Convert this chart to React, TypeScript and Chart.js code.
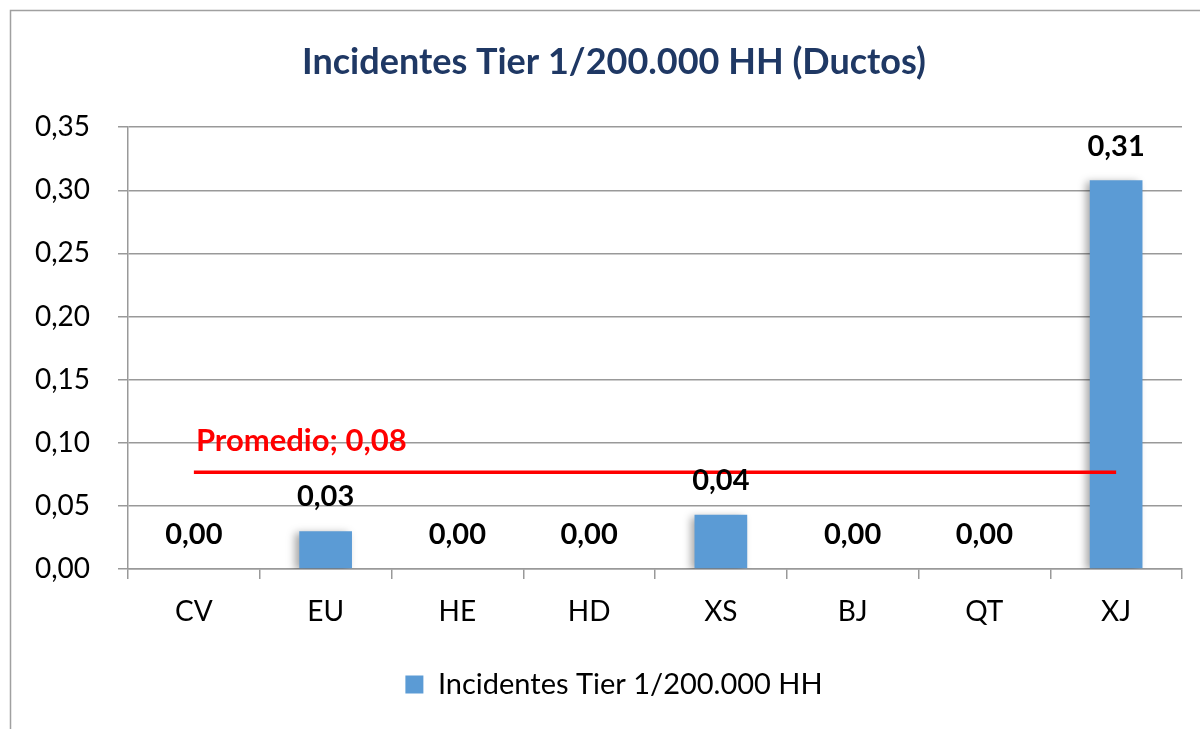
import React, { useEffect, useRef } from "react";
import { Chart, registerables } from "chart.js";

Chart.register(...registerables);

const categories = ["CV", "EU", "HE", "HD", "XS", "BJ", "QT", "XJ"];
const tierValues = [0, 0.03, 0, 0, 0.043, 0, 0, 0.308];
const averageValue = 0.0766;
const averageLabel = "Promedio; 0,08";
const seriesName = "Incidentes Tier 1/200.000 HH";
const titleText = "Incidentes Tier 1/200.000 HH (Ductos)";
const FONT = "Lato, 'Noto Sans', sans-serif";

const fmt = (v: number) => v.toFixed(2).replace(".", ",");

const framePlugin = {
  id: "frame",
  beforeDraw(chart: any) {
    const ctx = chart.ctx;
    ctx.save();
    ctx.fillStyle = "#ffffff";
    ctx.fillRect(0, 0, chart.width, chart.height);
    ctx.strokeStyle = "#a0a0a0";
    ctx.lineWidth = 1.5;
    ctx.beginPath();
    ctx.moveTo(10.5, chart.height + 5);
    ctx.lineTo(10.5, 10.5);
    ctx.lineTo(chart.width + 5, 10.5);
    ctx.stroke();
    ctx.restore();
  },
};

const shadowPlugin = {
  id: "barShadow",
  beforeDatasetDraw(chart: any, args: any) {
    if (args.index === 0) {
      const ctx = chart.ctx;
      ctx.save();
      ctx.shadowColor = "rgba(0,0,0,0.35)";
      ctx.shadowBlur = 8;
      ctx.shadowOffsetX = -4;
      ctx.shadowOffsetY = 2;
    }
  },
  afterDatasetDraw(chart: any, args: any) {
    if (args.index === 0) chart.ctx.restore();
  },
};

const labelsPlugin = {
  id: "valueLabels",
  afterDatasetsDraw(chart: any) {
    const ctx = chart.ctx;
    const meta = chart.getDatasetMeta(0);
    ctx.save();
    ctx.font = `bold 29px ${FONT}`;
    ctx.fillStyle = "#000000";
    ctx.textAlign = "center";
    ctx.textBaseline = "middle";
    meta.data.forEach((bar: any, i: number) => {
      ctx.fillText(fmt(tierValues[i]), bar.x, bar.y - 34);
    });
    const lineMeta = chart.getDatasetMeta(1);
    const p0 = lineMeta.data[0];
    ctx.font = `bold 31px ${FONT}`;
    ctx.fillStyle = "#ff0000";
    ctx.textAlign = "left";
    ctx.fillText(averageLabel, p0.x + 2, p0.y - 31);
    ctx.restore();
  },
};

export default function App() {
  const ref = useRef<HTMLCanvasElement>(null);
  useEffect(() => {
    if (!ref.current) return;
    const chart = new Chart(ref.current, {
      type: "bar",
      data: {
        labels: categories,
        datasets: [
          {
            type: "bar",
            label: seriesName,
            data: tierValues,
            backgroundColor: "#5b9bd5",
            borderWidth: 0,
            barPercentage: 0.4,
            categoryPercentage: 1,
            order: 2,
          },
          {
            type: "line",
            label: "Promedio",
            data: categories.map(() => averageValue),
            borderColor: "#ff0000",
            borderWidth: 3.5,
            pointRadius: 0,
            order: 1,
          } as any,
        ],
      },
      options: {
        responsive: false,
        animation: false,
        layout: { padding: { top: 15, left: 20, right: -8, bottom: 20 } },
        plugins: {
          title: {
            display: true,
            text: titleText,
            color: "#1f3864",
            font: { family: FONT, size: 36, weight: "bold" },
            padding: { top: 26, bottom: 43 },
          },
          legend: {
            display: true,
            position: "bottom",
            labels: {
              filter: (item: any) => item.datasetIndex === 0,
              boxWidth: 18,
              boxHeight: 18,
              color: "#000000",
              font: { family: FONT, size: 29 },
              padding: 28,
            },
          },
          tooltip: { enabled: false },
        },
        scales: {
          x: {
            afterFit: (scale: any) => {
              scale.height = 73;
            },
            grid: {
              offset: true,
              drawOnChartArea: false,
              tickLength: 10,
              color: "#999999",
              lineWidth: 1.5,
            },
            border: { color: "#999999", width: 1.5 },
            ticks: {
              color: "#000000",
              font: { family: FONT, size: 28 },
              padding: 16,
            },
          },
          y: {
            min: 0,
            max: 0.35,
            afterFit: (scale: any) => {
              scale.width = 108;
            },
            grid: { color: "#999999", lineWidth: 1.5, tickLength: 10 },
            border: { color: "#999999", width: 1.5 },
            ticks: {
              stepSize: 0.05,
              color: "#000000",
              font: { family: FONT, size: 28 },
              padding: 28,
              callback: (v: any) => fmt(Number(v)),
            },
          },
          yRight: {
            position: "right",
            min: 0,
            max: 0.35,
            afterFit: (scale: any) => {
              scale.width = 26;
            },
            grid: { display: false },
            border: { display: false },
            ticks: { display: false },
          },
        },
      },
      plugins: [framePlugin, shadowPlugin, labelsPlugin],
    });
    return () => chart.destroy();
  }, []);
  return (
    <canvas
      ref={ref}
      width={1200}
      height={729}
      style={{ position: "absolute", left: 0, top: 0, width: 1200, height: 729 }}
    />
  );
}
